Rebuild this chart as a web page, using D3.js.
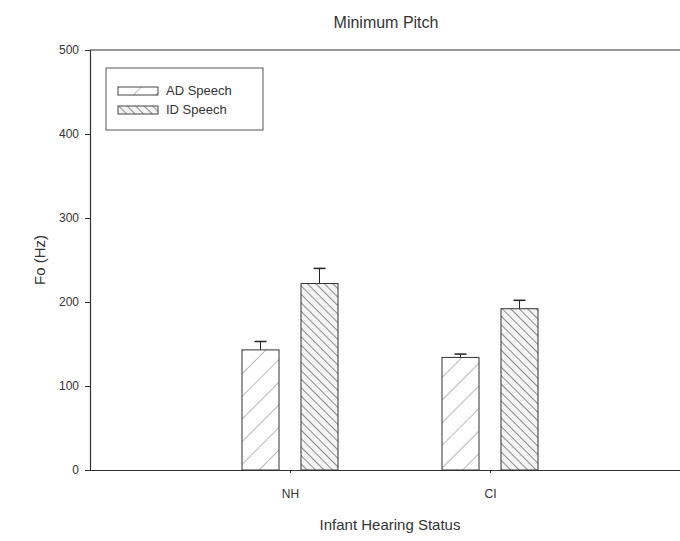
<!DOCTYPE html>
<html>
<head>
<meta charset="utf-8">
<script src="https://cdn.jsdelivr.net/npm/d3@7"></script>
<style>
	body { margin: 0; background: #fff; }
	text { font-family: "Liberation Sans", Arial, sans-serif; fill: #333; }
</style>
</head>
<body>
<svg id="chart" width="680" height="541"></svg>
<script>
var groups = ["NH", "CI"];
var series = ["AD Speech", "ID Speech"];
var adMeans = [143, 134];
var adErrors = [10, 4];
var idMeans = [222, 192];
var idErrors = [18, 10];
var yTicks = [0, 100, 200, 300, 400, 500];

var svg = d3.select("#chart"),
	margin = {top: 50, right: -10, bottom: 71, left: 90},
	width = 680 - margin.left - margin.right,
	height = 541 - margin.top - margin.bottom,
	g = svg.append("g").attr("transform", "translate(" + margin.left + "," + margin.top + ")");

var defs = svg.append("defs");

// sparse forward hatch for AD
var pa = defs.append("pattern")
	.attr("id", "hatchAD")
	.attr("patternUnits", "userSpaceOnUse")
	.attr("width", 16).attr("height", 16)
	.attr("patternTransform", "rotate(45)");
pa.append("rect").attr("width", 16).attr("height", 16).attr("fill", "#fff");
pa.append("line").attr("x1", 0).attr("y1", 0).attr("x2", 0).attr("y2", 16)
	.attr("stroke", "#888").attr("stroke-width", 1.2);

// dense back hatch for ID
var pi = defs.append("pattern")
	.attr("id", "hatchID")
	.attr("patternUnits", "userSpaceOnUse")
	.attr("width", 6).attr("height", 6)
	.attr("patternTransform", "rotate(-45)");
pi.append("rect").attr("width", 6).attr("height", 6).attr("fill", "#f4f4f4");
pi.append("line").attr("x1", 0).attr("y1", 0).attr("x2", 0).attr("y2", 6)
	.attr("stroke", "#555").attr("stroke-width", 1.3);

var x = d3.scalePoint()
	.domain(groups)
	.range([0, width])
	.padding(1);

var y = d3.scaleLinear()
	.domain([0, 500])
	.range([height, 0]);

var barW = 37,
	offsets = [-29.5, 29.5],
	fills = ["url(#hatchAD)", "url(#hatchID)"];

var data = [];
groups.forEach(function(grp, i) {
	data.push({group: grp, s: 0, value: adMeans[i], err: adErrors[i]});
	data.push({group: grp, s: 1, value: idMeans[i], err: idErrors[i]});
});

// frame top line
g.append("line")
	.attr("x1", 0).attr("x2", width)
	.attr("y1", 0).attr("y2", 0)
	.attr("stroke", "#333").attr("stroke-width", 1.2);

// error bars (drawn behind bars)
var eb = g.append("g").selectAll("g")
	.data(data)
	.enter().append("g");
eb.append("line")
	.attr("x1", function(d) { return x(d.group) + offsets[d.s]; })
	.attr("x2", function(d) { return x(d.group) + offsets[d.s]; })
	.attr("y1", function(d) { return y(d.value); })
	.attr("y2", function(d) { return y(d.value + d.err); })
	.attr("stroke", "#222").attr("stroke-width", 1);
eb.append("line")
	.attr("x1", function(d) { return x(d.group) + offsets[d.s] - 6; })
	.attr("x2", function(d) { return x(d.group) + offsets[d.s] + 6; })
	.attr("y1", function(d) { return y(d.value + d.err); })
	.attr("y2", function(d) { return y(d.value + d.err); })
	.attr("stroke", "#222").attr("stroke-width", 1.5);

g.append("g").selectAll("rect")
	.data(data)
	.enter().append("rect")
	.attr("x", function(d) { return x(d.group) + offsets[d.s] - barW / 2; })
	.attr("y", function(d) { return y(d.value); })
	.attr("width", barW)
	.attr("height", function(d) { return height - y(d.value); })
	.attr("fill", function(d) { return fills[d.s]; })
	.attr("stroke", "#333")
	.attr("stroke-width", 1);

// axes
var yAxis = g.append("g")
	.call(d3.axisLeft(y).tickValues(yTicks).tickSize(5).tickPadding(6));
yAxis.select(".domain").attr("stroke", "#333").attr("stroke-width", 1.2);
yAxis.selectAll("line").attr("stroke", "#333");
yAxis.selectAll("text").style("font-size", "12px").attr("fill", "#333");

var xAxis = g.append("g")
	.attr("transform", "translate(0," + height + ")")
	.call(d3.axisBottom(x).tickSize(3).tickPadding(16).tickSizeOuter(0));
xAxis.select(".domain").attr("stroke", "#333").attr("stroke-width", 1.2);
xAxis.selectAll("line").attr("stroke", "#333");
xAxis.selectAll("text").style("font-size", "12px").attr("fill", "#333");

// titles
svg.append("text")
	.attr("x", 386).attr("y", 28)
	.attr("text-anchor", "middle")
	.style("font-size", "16px")
	.text("Minimum Pitch");

svg.append("text")
	.attr("x", 390).attr("y", 530)
	.attr("text-anchor", "middle")
	.style("font-size", "15px")
	.text("Infant Hearing Status");

svg.append("text")
	.attr("transform", "translate(45," + (margin.top + y(250)) + ") rotate(-90)")
	.attr("text-anchor", "middle")
	.style("font-size", "15px")
	.text("Fo (Hz)");

// legend
var legend = svg.append("g").attr("transform", "translate(106,68)");
legend.append("rect")
	.attr("width", 157).attr("height", 62)
	.attr("fill", "#fff").attr("stroke", "#555").attr("stroke-width", 1);
var items = legend.selectAll(".item")
	.data(series)
	.enter().append("g")
	.attr("class", "item")
	.attr("transform", function(d, i) { return "translate(12," + (19 + i * 19) + ")"; });
items.append("rect")
	.attr("width", 40).attr("height", 8)
	.attr("fill", function(d, i) { return fills[i]; })
	.attr("stroke", "#444").attr("stroke-width", 1);
items.append("text")
	.attr("x", 48).attr("y", 8)
	.style("font-size", "13px")
	.text(function(d) { return d; });
</script>
</body>
</html>
